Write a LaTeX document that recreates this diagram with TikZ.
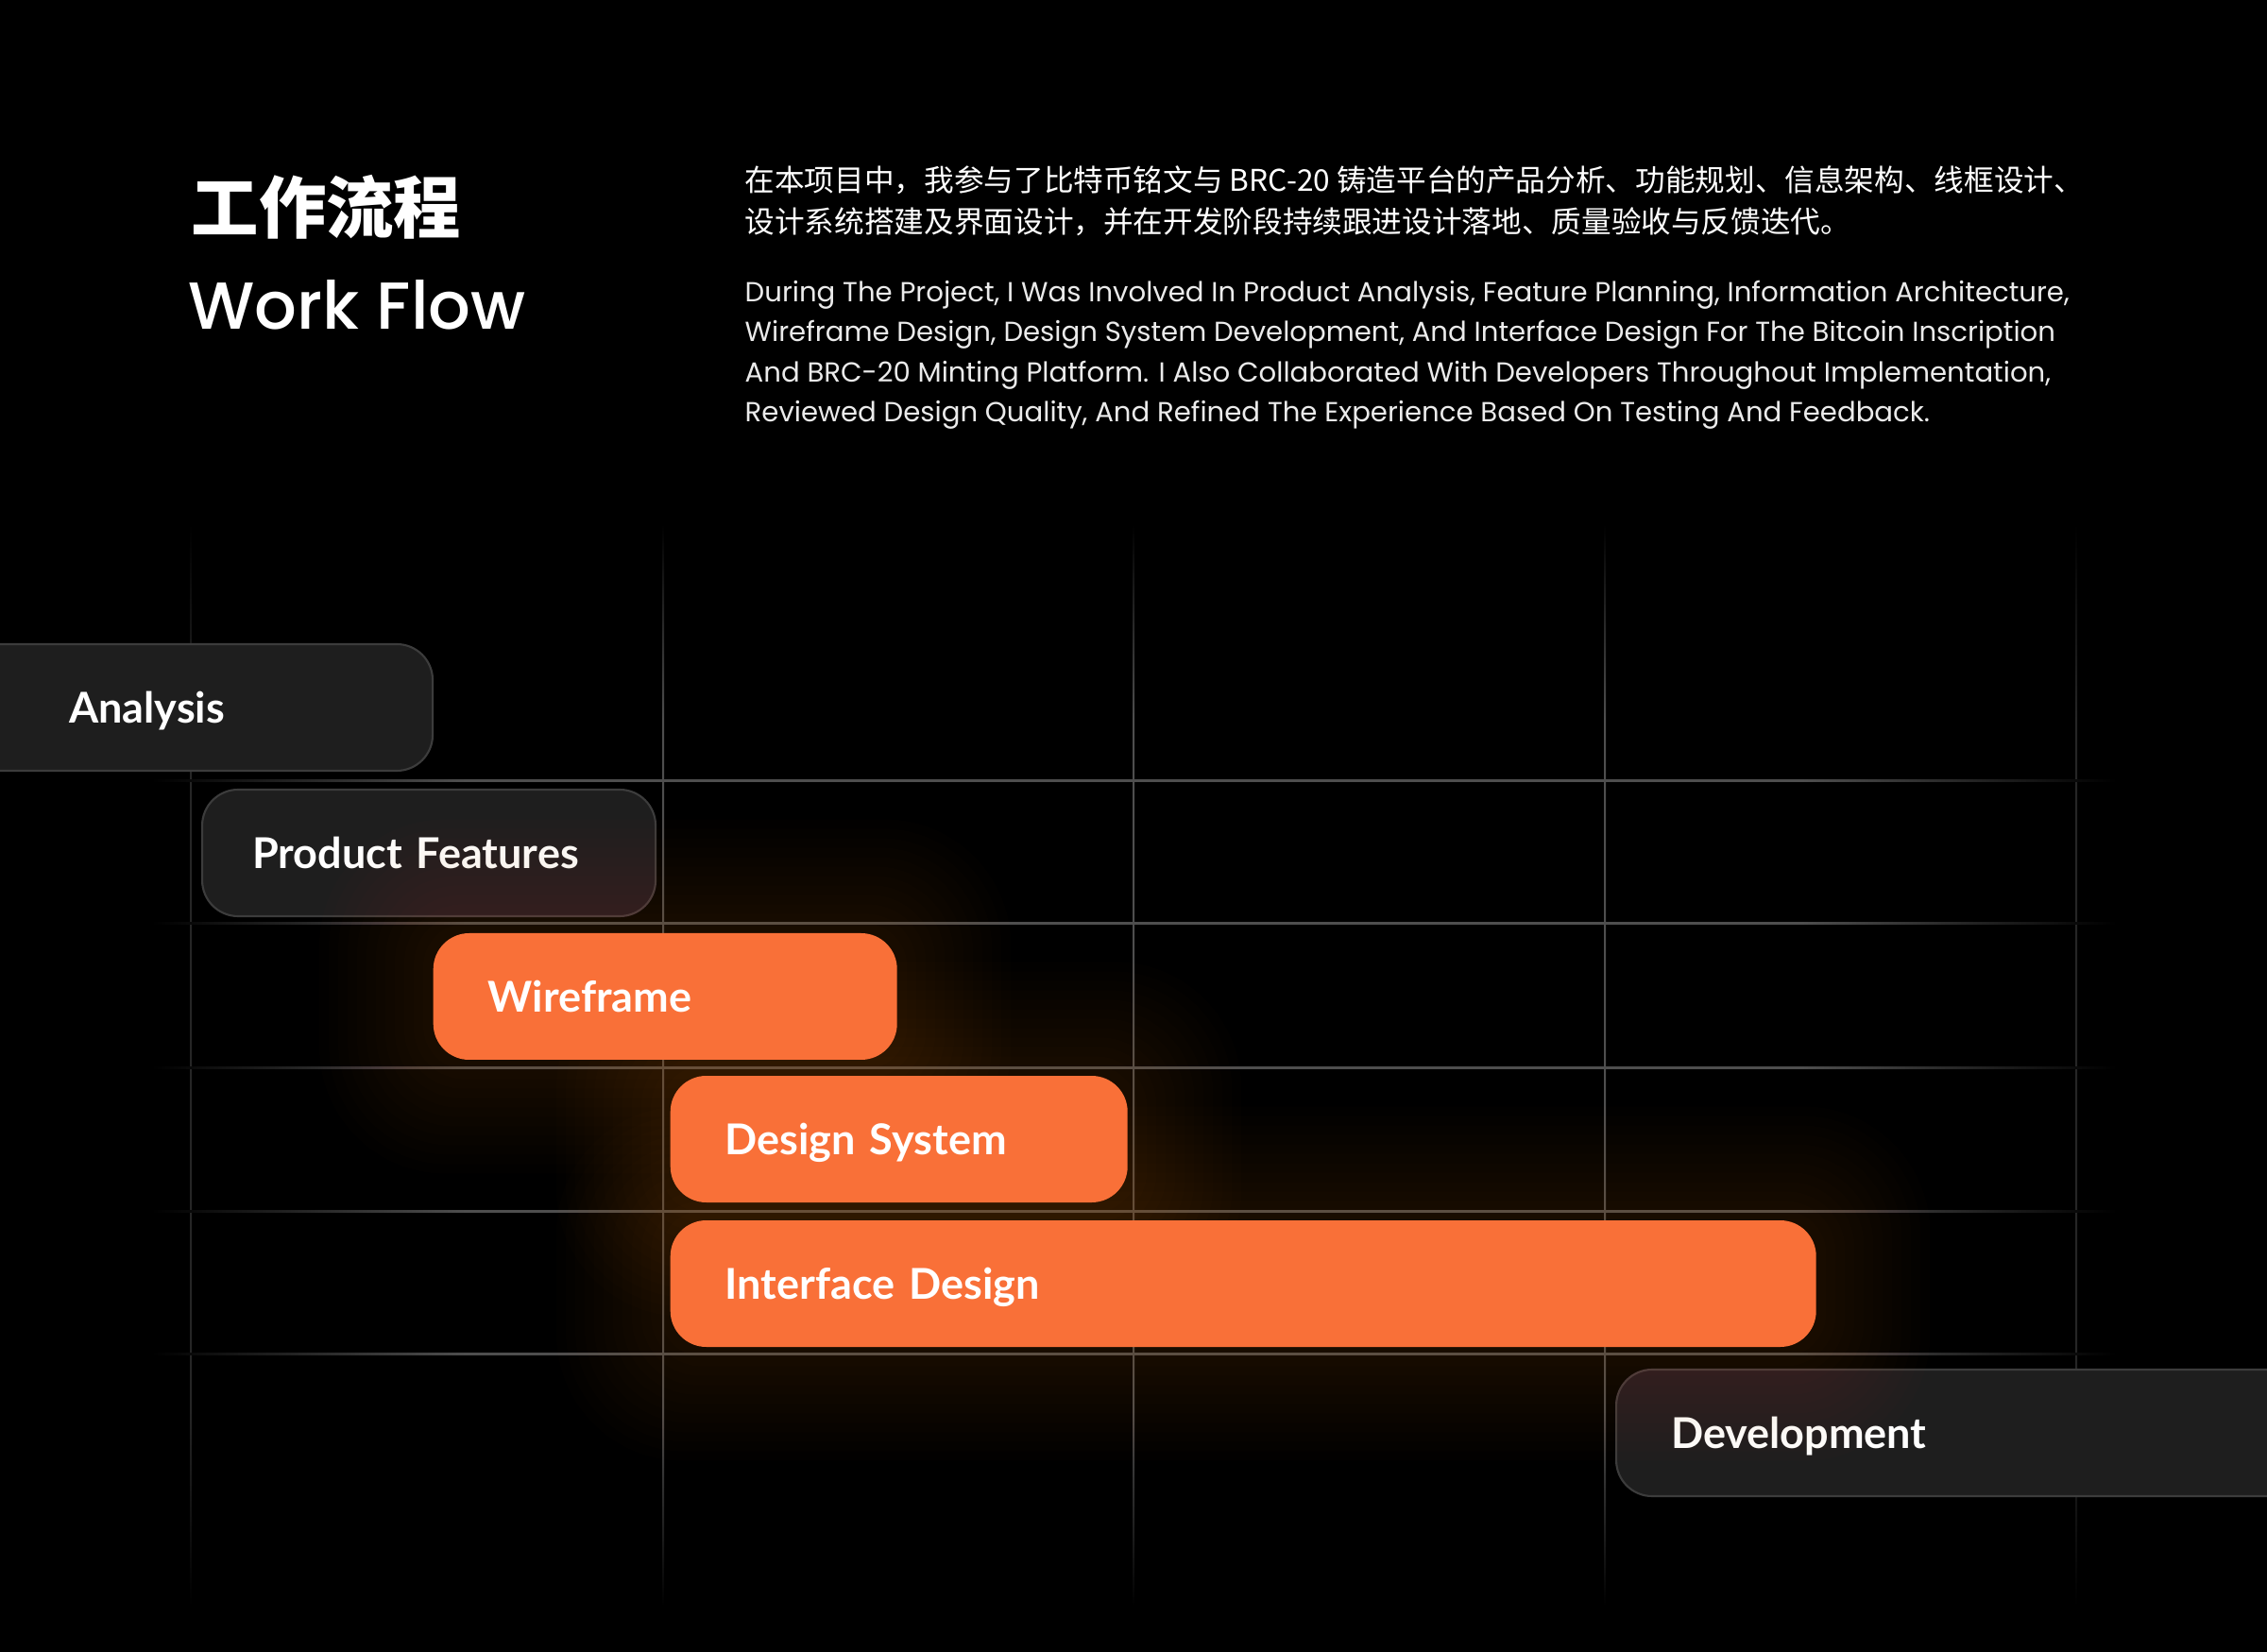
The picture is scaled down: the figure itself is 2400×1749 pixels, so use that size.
\documentclass[tikz,border=0pt]{standalone}
\usepackage{fontspec}
\setmainfont{Lato}
\newfontfamily\cjkfont{Noto Sans CJK SC}
\newfontfamily\titlefont{Poppins}[UprightFont=* Medium]
\newfontfamily\bodyfont{Poppins}
\usepackage{tikz}
\usetikzlibrary{positioning}

\definecolor{barorange}{HTML}{F97038}
\definecolor{bardark}{HTML}{1E1E1E}
\definecolor{barline}{HTML}{3C3C3C}
\definecolor{gridgray}{HTML}{4E4E4E}
\definecolor{gridfaint}{HTML}{262626}

\pgfdeclarelayer{back}
\pgfdeclarelayer{glow}
\pgfsetlayers{back,glow,main}

% grid lines that fade out at both ends
\pgfdeclarehorizontalshading{gridlineh}{100bp}{color(0bp)=(black); color(25bp)=(black); color(33bp)=(gridgray); color(67bp)=(gridgray); color(75bp)=(black); color(100bp)=(black)}
\pgfdeclareverticalshading{gridlinev}{100bp}{color(0bp)=(black); color(25bp)=(black); color(34bp)=(gridgray); color(66bp)=(gridgray); color(75bp)=(black); color(100bp)=(black)}
\pgfdeclareverticalshading{gridlinevfaint}{100bp}{color(0bp)=(black); color(25bp)=(black); color(34bp)=(gridfaint); color(66bp)=(gridfaint); color(75bp)=(black); color(100bp)=(black)}

\tikzstyle{taskbar} = [rectangle, rounded corners=3.8mm, minimum height=13.4mm, inner xsep=5.8mm, text height=9.2pt, text depth=0pt, align=left, anchor=west, text=white, font=\fontsize{12.8}{15}\selectfont\bfseries]
\tikzstyle{darkbar} = [taskbar, fill=bardark, draw=barline, line width=0.6pt]
\tikzstyle{hotbar} = [taskbar, fill=barorange]
\tikzstyle{introcn} = [anchor=base west, inner sep=0, text=white, font=\cjkfont\fontsize{9}{12}\selectfont]
\tikzstyle{introen} = [anchor=base west, inner sep=0, text=white!92!black, font=\bodyfont\fontsize{8.3}{12}\selectfont]

\begin{document}
\begin{tikzpicture}[x=0.1mm, y=-0.1mm]
\useasboundingbox (0,0) rectangle (2400,1749);
\clip (0,0) rectangle (2400,1749);

% Grid and grey bars
\begin{pgfonlayer}{back}
\fill[black] (0,0) rectangle (2400,1749);
\foreach \gx/\gs in {202/gridlinevfaint, 702/gridlinev, 1200/gridlinev, 1699/gridlinev, 2198/gridlinevfaint}
  \shade[shading=\gs] (\gx-1,555) rectangle (\gx+1,1700);
\foreach \gy in {827, 978, 1130, 1282, 1433}
  \shade[shading=gridlineh] (160,\gy-1) rectangle (2240,\gy+1);

\node (analysis) [darkbar, minimum width=55.7mm, text width=21.3mm, inner xsep=17.2mm] at (-100,749) {Analysis};
\node (features) [darkbar, minimum width=48mm, text width=37.4mm, inner xsep=5.3mm] at (213,903) {Product Features};
\node (develop) [darkbar, minimum width=79mm, text width=67.4mm] at (1710,1517) {Development};
\end{pgfonlayer}

% Heading
\node (titlecn) [anchor=base west, inner sep=0, text=white, font=\cjkfont\bfseries\fontsize{20.3}{24}\selectfont] at (202,247) {工作流程};
\node (titleen) [anchor=base west, inner sep=0, text=white, font=\titlefont\fontsize{20}{24}\selectfont] at (199,349) {Work Flow};

% Intro text
\node (introcn1) [introcn] at (788,203) {在本项目中，我参与了比特币铭文与 BRC-20 铸造平台的产品分析、功能规划、信息架构、线框设计、};
\node (introcn2) [introcn] at (788,247) {设计系统搭建及界面设计，并在开发阶段持续跟进设计落地、质量验收与反馈迭代。};
\node (introen1) [introen] at (788,320) {During The Project, I Was Involved In Product Analysis, Feature Planning, Information Architecture,};
\node (introen2) [introen] at (788,362) {Wireframe Design, Design System Development, And Interface Design For The Bitcoin Inscription};
\node (introen3) [introen] at (788,405) {And BRC-20 Minting Platform. I Also Collaborated With Developers Throughout Implementation,};
\node (introen4) [introen] at (788,447) {Reviewed Design Quality, And Refined The Experience Based On Testing And Feedback.};

% Orange bars
\node (wire) [hotbar, minimum width=49.1mm, text width=37.5mm] at (458,1055) {Wireframe};
\node (dsys) [hotbar, minimum width=48.4mm, text width=36.8mm] at (709,1206) {Design System};
\node (iface) [hotbar, minimum width=121.3mm, text width=109.7mm] at (709,1359) {Interface Design};

% Glow round the orange bars
\begin{pgfonlayer}{glow}
\foreach \bar in {wire, dsys, iface}
  \foreach \g [evaluate=\g as \d using 0.8*\g, evaluate=\g as \r using 3.8+0.8*\g] in {1,...,12}
    \fill[barorange, opacity=0.012, rounded corners=\r mm]
      ([shift={(-\d mm,-\d mm)}]\bar.south west) rectangle ([shift={(\d mm,\d mm)}]\bar.north east);
\end{pgfonlayer}

\end{tikzpicture}
\end{document}
